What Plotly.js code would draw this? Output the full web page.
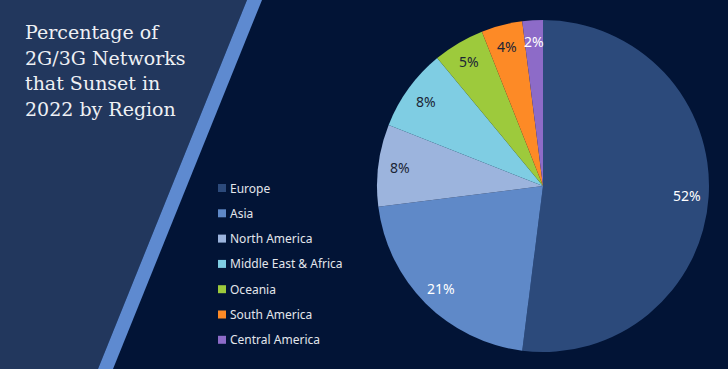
<!DOCTYPE html>
<html>
<head>
<meta charset="utf-8">
<script src="https://cdn.plot.ly/plotly-3.0.1.min.js"></script>
<style>
html,body{margin:0;padding:0;background:#021436;}
#chart{width:728px;height:369px;}
</style>
</head>
<body>
<div id="chart"></div>
<script>
// Data
const regions = ["Europe", "Asia", "North America", "Middle East & Africa", "Oceania", "South America", "Central America"];
const shares = [52, 21, 8, 8, 5, 4, 2];
const titleLines = ["Percentage of", "2G/3G Networks", "that Sunset in", "2022 by Region"];

// Styles
const sliceColors = ["#2c4a7b", "#5f89c8", "#9cb4dd", "#7fcde3", "#9dca3c", "#fd8a26", "#8d6bc8"];
const labelColors = ["#ffffff", "#ffffff", "#1b2535", "#1b2535", "#1b2535", "#1b2535", "#ffffff"];

const W = 728, H = 369;
const px = x => x / W;
const py = y => 1 - y / H;

const cx = 543, cy = 186, r = 166;

const trace = {
  type: "pie",
  values: shares,
  labels: regions,
  sort: false,
  direction: "clockwise",
  rotation: 0,
  marker: {colors: sliceColors, line: {width: 0}},
  textinfo: "none",
  hoverinfo: "label+percent",
  showlegend: false,
  domain: {x: [px(cx - r), px(cx + r)], y: [py(cy + r), py(cy - r)]}
};

const shapes = [
  {type: "path", xref: "paper", yref: "paper",
   path: `M 0 1 L ${px(247)} 1 L ${px(98)} 0 L 0 0 Z`,
   fillcolor: "#22375d", line: {width: 0}, layer: "below"},
  {type: "path", xref: "paper", yref: "paper",
   path: `M ${px(247)} 1 L ${px(262)} 1 L ${px(113)} 0 L ${px(98)} 0 Z`,
   fillcolor: "#5e8ad0", line: {width: 0}, layer: "below"}
];

const annotations = [];

// Title lines
titleLines.forEach((line, i) => {
  annotations.push({xref: "paper", yref: "paper", x: px(23), y: py(40 + i * 25.6),
    xanchor: "left", yanchor: "bottom", yshift: -5, showarrow: false, text: line,
    font: {family: "DejaVu Serif, serif", size: 19, color: "#eef0f4"}});
});

// Slice labels, placed along each slice's mid-angle
const total = shares.reduce((a, b) => a + b, 0);
let cum = 0;
shares.forEach((v, i) => {
  const mid = (cum + v / 2) / total * 2 * Math.PI;
  cum += v;
  const lx = cx + 0.87 * r * Math.sin(mid);
  const ly = cy - 0.87 * r * Math.cos(mid);
  annotations.push({xref: "paper", yref: "paper", x: px(lx), y: py(ly),
    xanchor: "center", yanchor: "middle", showarrow: false, text: v + "%",
    font: {family: "Noto Sans, Open Sans, sans-serif", size: 14, color: labelColors[i]}});
});

// Legend
const legX = 218, legY0 = 188, legStep = 25.3;
regions.forEach((name, i) => {
  const y = legY0 + i * legStep;
  shapes.push({type: "rect", xref: "paper", yref: "paper",
    x0: px(legX), x1: px(legX + 8), y0: py(y + 4), y1: py(y - 4),
    fillcolor: sliceColors[i], line: {width: 0}});
  annotations.push({xref: "paper", yref: "paper", x: px(legX + 10), y: py(y),
    xanchor: "left", yanchor: "middle", showarrow: false, text: name,
    font: {family: "Noto Sans, Open Sans, sans-serif", size: 12, color: "#e3e6ec"}});
});

const layout = {
  width: W, height: H,
  margin: {l: 0, r: 0, t: 0, b: 0},
  paper_bgcolor: "#021436",
  plot_bgcolor: "#021436",
  shapes: shapes,
  annotations: annotations
};

Plotly.newPlot("chart", [trace], layout, {displayModeBar: false, staticPlot: true});
</script>
</body>
</html>
